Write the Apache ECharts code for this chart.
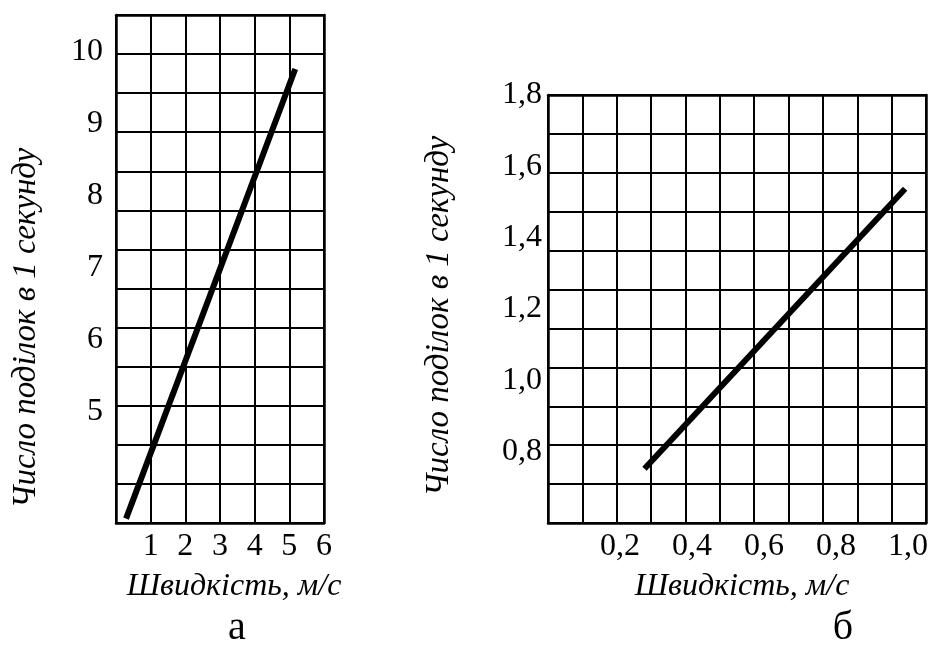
<!DOCTYPE html>
<html>
<head>
<meta charset="utf-8">
<script src="https://cdn.jsdelivr.net/npm/echarts@6/dist/echarts.min.js"></script>
<style>html,body{margin:0;padding:0;background:#fff}#c{width:931px;height:646px}</style>
</head>
<body>
<div id="c"></div>
<script>
// ---- data ----
const xTicksA = [1, 2, 3, 4, 5, 6];
const yTicksA = [5, 6, 7, 8, 9, 10];
const lineAx = [0.29, 5.17];
const lineAy = [3.52, 9.76];

const xTicksB = [0.2, 0.4, 0.6, 0.8, 1.0];
const yTicksB = [0.8, 1.0, 1.2, 1.4, 1.6, 1.8];
const lineBx = [0.268, 0.992];
const lineBy = [0.752, 1.537];

const yTitle = 'Число поділок в 1 секунду';
const xTitle = 'Швидкість, м/с';
const captionA = 'а';
const captionB = 'б';

// ---- chart ----
const FONT = '"Liberation Serif", "DejaVu Serif", serif';
const chart = echarts.init(document.getElementById('c'));
const comma = v => (Math.round(v * 10) / 10).toFixed(1).replace('.', ',');
const gridLine = { show: true, lineStyle: { color: '#000', width: 2 } };
const frameLine = { show: true, onZero: false, lineStyle: { color: '#000', width: 2.5 } };
const lbl = { fontFamily: FONT, fontSize: 32, color: '#000' };

chart.setOption({
  animation: false,
  backgroundColor: '#fff',
  grid: [
    { left: 116, top: 15, width: 208, height: 508 },
    { left: 548, top: 95, width: 379, height: 428 }
  ],
  xAxis: [
    { // A: values and vertical grid (6 columns)
      type: 'value', gridIndex: 0, min: 0, max: 6, interval: 1,
      axisLine: frameLine, axisTick: { show: false }, splitLine: gridLine,
      axisLabel: Object.assign({ customValues: xTicksA, margin: 8 }, lbl)
    },
    { // A: top frame
      type: 'value', gridIndex: 0, min: 0, max: 6, position: 'top',
      axisLine: frameLine, axisTick: { show: false }, axisLabel: { show: false }, splitLine: { show: false }
    },
    { // B: values
      type: 'value', gridIndex: 1, min: 0, max: 1.05,
      axisLine: frameLine, axisTick: { show: false }, splitLine: { show: false },
      axisLabel: Object.assign({ customValues: xTicksB, margin: 8, formatter: comma }, lbl)
    },
    { // B: vertical grid (11 columns) + top frame
      type: 'value', gridIndex: 1, min: 0, max: 11, interval: 1, position: 'top',
      axisLine: frameLine, axisTick: { show: false }, axisLabel: { show: false }, splitLine: gridLine
    }
  ],
  yAxis: [
    { // A: horizontal grid (13 rows) + left frame
      type: 'value', gridIndex: 0, min: 0, max: 13, interval: 1,
      axisLine: frameLine, axisTick: { show: false }, axisLabel: { show: false }, splitLine: gridLine
    },
    { // A: values
      type: 'value', gridIndex: 0, min: 3.46, max: 10.51, position: 'left',
      axisLine: { show: false }, axisTick: { show: false }, splitLine: { show: false },
      axisLabel: Object.assign({ customValues: yTicksA, margin: 13 }, lbl)
    },
    { // A: right frame
      type: 'value', gridIndex: 0, min: 0, max: 13, position: 'right',
      axisLine: frameLine, axisTick: { show: false }, axisLabel: { show: false }, splitLine: { show: false }
    },
    { // B: horizontal grid (11 rows) + left frame
      type: 'value', gridIndex: 1, min: 0, max: 11, interval: 1,
      axisLine: frameLine, axisTick: { show: false }, axisLabel: { show: false }, splitLine: gridLine
    },
    { // B: values
      type: 'value', gridIndex: 1, min: 0.6, max: 1.8, position: 'left',
      axisLine: { show: false }, axisTick: { show: false }, splitLine: { show: false },
      axisLabel: Object.assign({ customValues: yTicksB, margin: 6, formatter: comma }, lbl)
    },
    { // B: right frame
      type: 'value', gridIndex: 1, min: 0, max: 11, position: 'right',
      axisLine: frameLine, axisTick: { show: false }, axisLabel: { show: false }, splitLine: { show: false }
    }
  ],
  series: [
    {
      type: 'line', xAxisIndex: 0, yAxisIndex: 1, symbol: 'none',
      lineStyle: { color: '#000', width: 6, cap: 'butt' },
      data: lineAx.map((x, i) => [x, lineAy[i]])
    },
    {
      type: 'line', xAxisIndex: 2, yAxisIndex: 4, symbol: 'none',
      lineStyle: { color: '#000', width: 6, cap: 'butt' },
      data: lineBx.map((x, i) => [x, lineBy[i]])
    }
  ],
  graphic: [
    { type: 'text', x: 26, y: 328, rotation: Math.PI / 2,
      style: { text: yTitle, font: 'italic 33px ' + FONT, fill: '#000', align: 'center', verticalAlign: 'middle' } },
    { type: 'text', x: 439, y: 316, rotation: Math.PI / 2,
      style: { text: yTitle, font: 'italic 33px ' + FONT, fill: '#000', align: 'center', verticalAlign: 'middle' } },
    { type: 'text', x: 234, y: 587,
      style: { text: xTitle, font: 'italic 32px ' + FONT, fill: '#000', align: 'center', verticalAlign: 'middle' } },
    { type: 'text', x: 742, y: 587,
      style: { text: xTitle, font: 'italic 32px ' + FONT, fill: '#000', align: 'center', verticalAlign: 'middle' } },
    { type: 'text', x: 237, y: 628,
      style: { text: captionA, font: '40px ' + FONT, fill: '#000', align: 'center', verticalAlign: 'middle' } },
    { type: 'text', x: 843, y: 628,
      style: { text: captionB, font: '40px ' + FONT, fill: '#000', align: 'center', verticalAlign: 'middle' } }
  ]
});
</script>
</body>
</html>
